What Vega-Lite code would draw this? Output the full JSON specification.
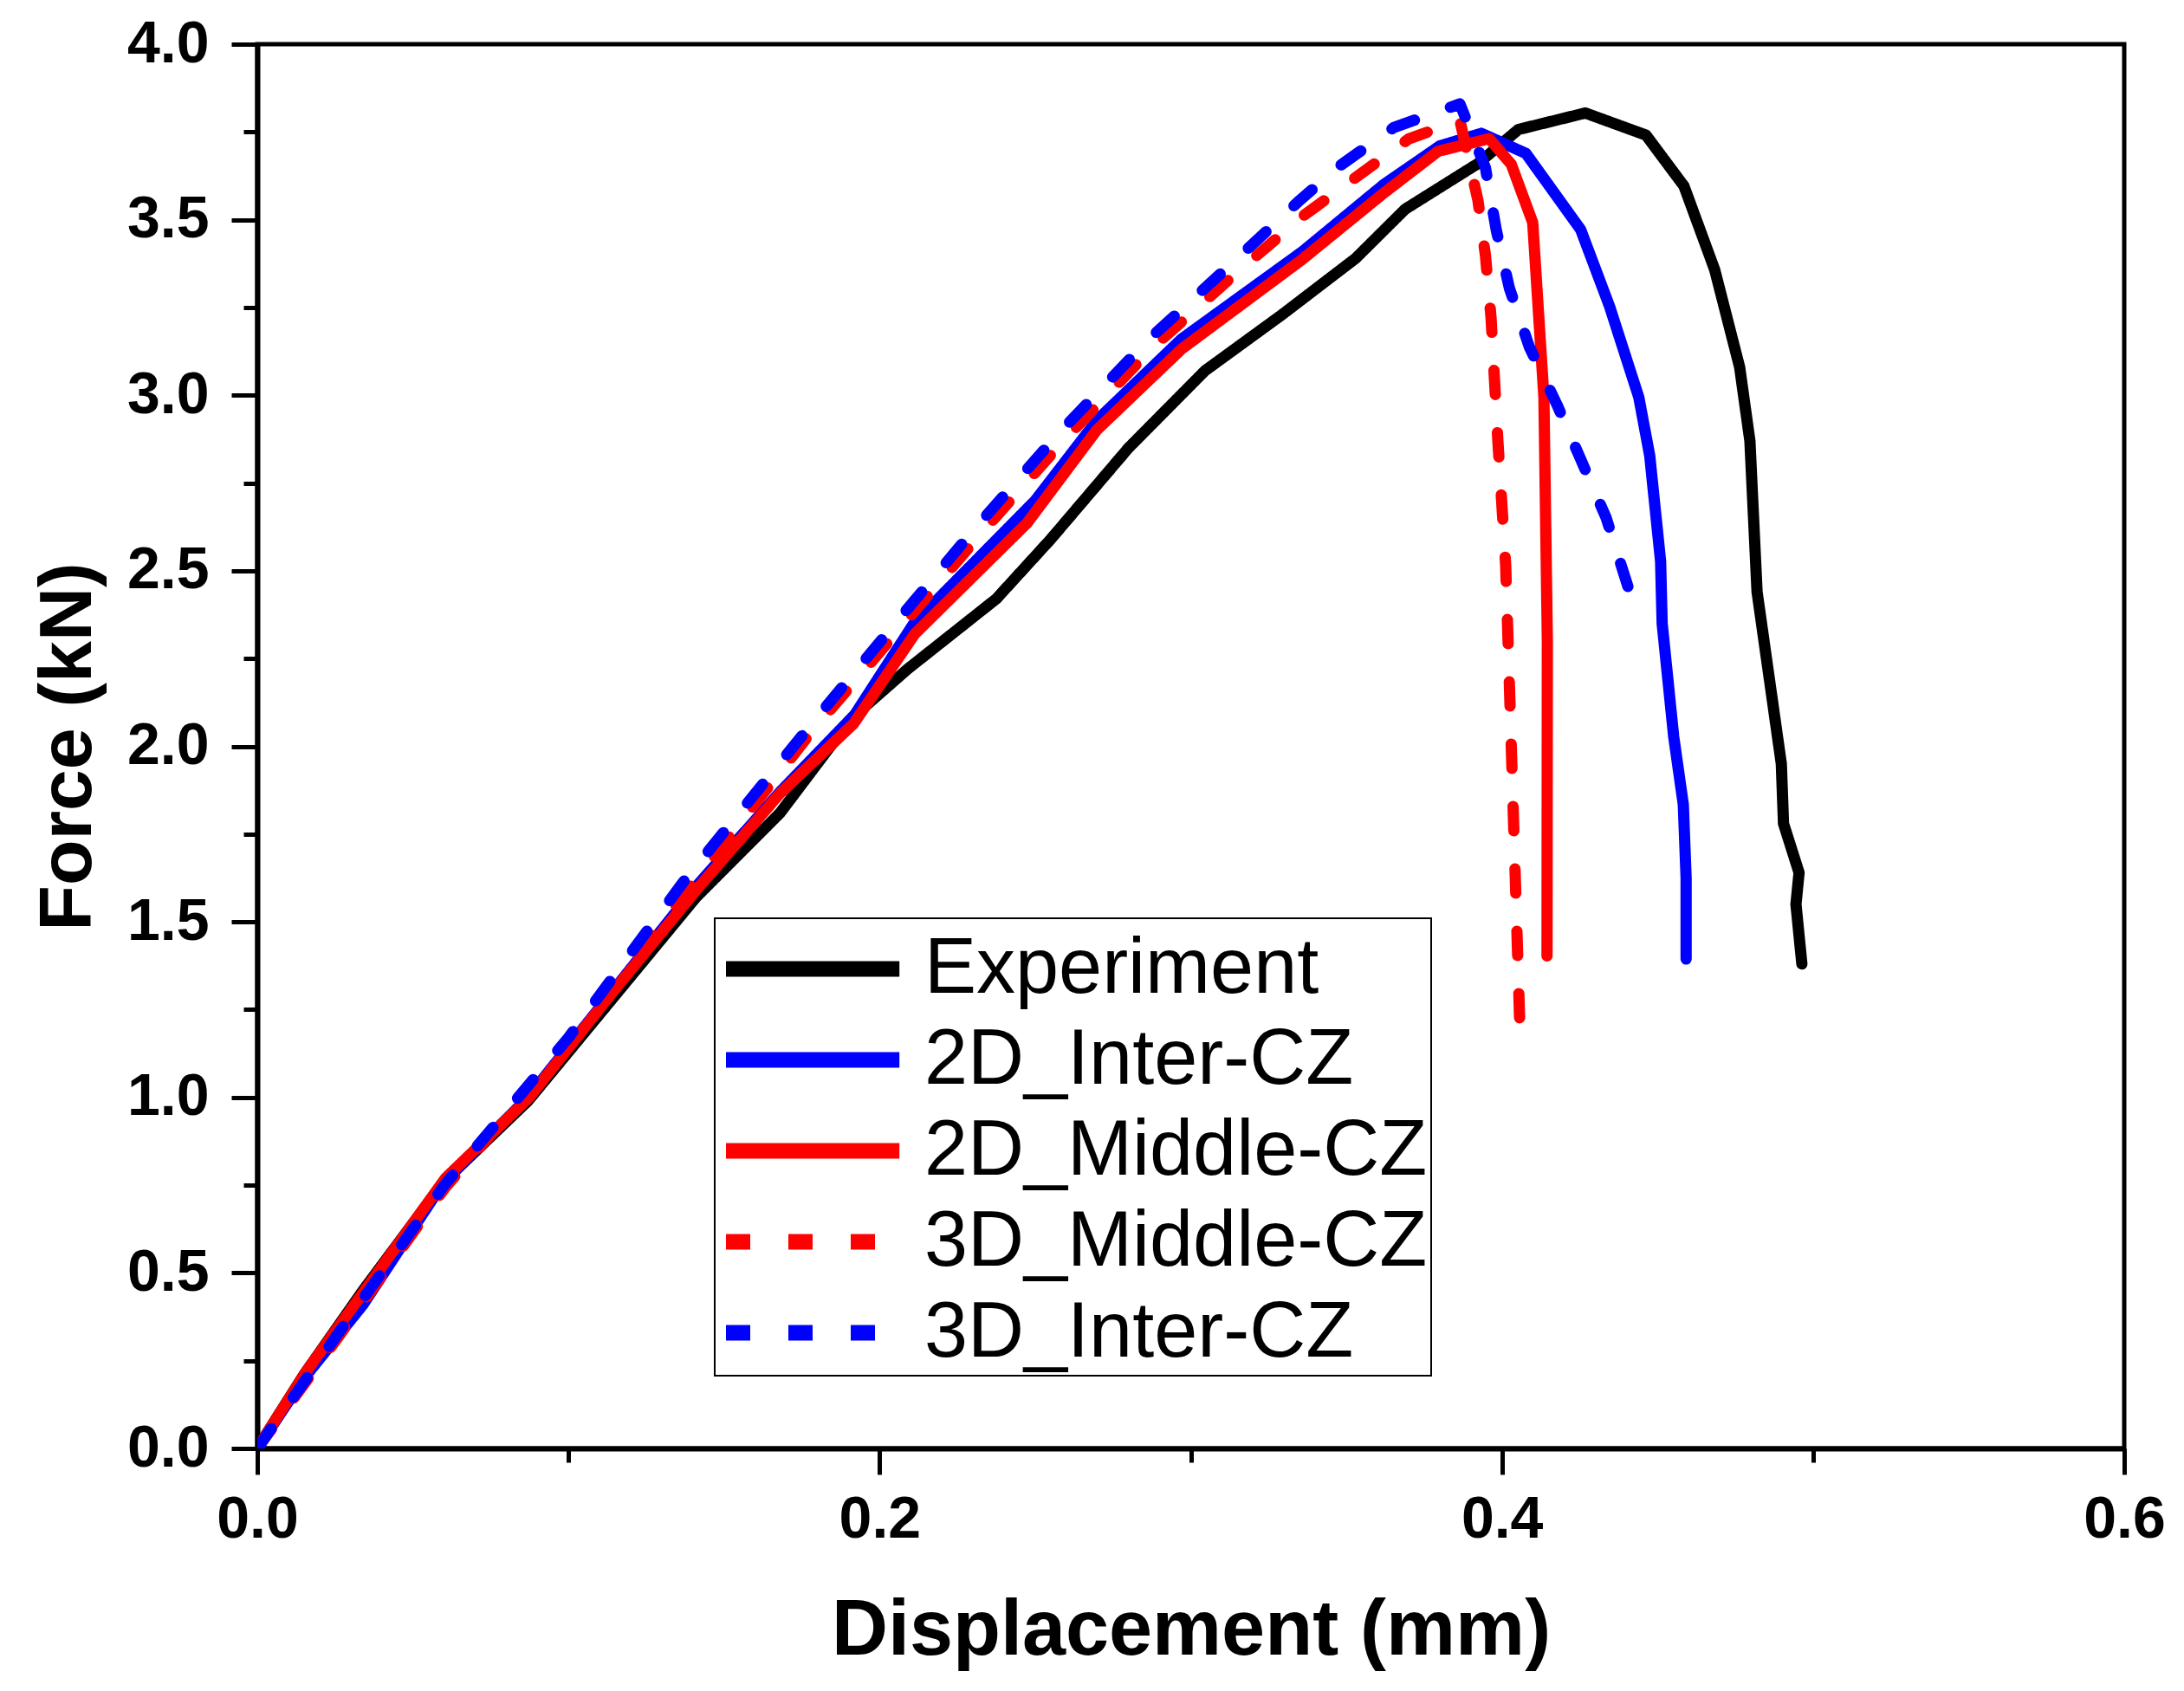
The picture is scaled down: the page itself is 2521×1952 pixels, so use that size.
{
  "$schema": "https://vega.github.io/schema/vega-lite/v6.json",
  "background": "white",
  "autosize": "none",
  "width": 2155,
  "height": 1621,
  "padding": {"left": 297, "top": 51, "right": 69, "bottom": 280},
  "datasets": {
    "curves": [
      {"series": "Experiment", "x": 0, "y": 0},
      {"series": "Experiment", "x": 0.015, "y": 0.21},
      {"series": "Experiment", "x": 0.034, "y": 0.45},
      {"series": "Experiment", "x": 0.06, "y": 0.76},
      {"series": "Experiment", "x": 0.087, "y": 0.99},
      {"series": "Experiment", "x": 0.114, "y": 1.28},
      {"series": "Experiment", "x": 0.141, "y": 1.57},
      {"series": "Experiment", "x": 0.168, "y": 1.81},
      {"series": "Experiment", "x": 0.191, "y": 2.08},
      {"series": "Experiment", "x": 0.209, "y": 2.22},
      {"series": "Experiment", "x": 0.2375, "y": 2.42},
      {"series": "Experiment", "x": 0.255, "y": 2.59},
      {"series": "Experiment", "x": 0.28, "y": 2.85},
      {"series": "Experiment", "x": 0.3046, "y": 3.07},
      {"series": "Experiment", "x": 0.3294, "y": 3.23},
      {"series": "Experiment", "x": 0.353, "y": 3.39},
      {"series": "Experiment", "x": 0.3689, "y": 3.53},
      {"series": "Experiment", "x": 0.3923, "y": 3.66},
      {"series": "Experiment", "x": 0.4053, "y": 3.757},
      {"series": "Experiment", "x": 0.4268, "y": 3.804},
      {"series": "Experiment", "x": 0.4463, "y": 3.741},
      {"series": "Experiment", "x": 0.4585, "y": 3.596},
      {"series": "Experiment", "x": 0.4684, "y": 3.357},
      {"series": "Experiment", "x": 0.4764, "y": 3.08},
      {"series": "Experiment", "x": 0.4797, "y": 2.87},
      {"series": "Experiment", "x": 0.482, "y": 2.44},
      {"series": "Experiment", "x": 0.4898, "y": 1.95},
      {"series": "Experiment", "x": 0.4905, "y": 1.78},
      {"series": "Experiment", "x": 0.4955, "y": 1.64},
      {"series": "Experiment", "x": 0.4945, "y": 1.55},
      {"series": "Experiment", "x": 0.4964, "y": 1.38},

      {"series": "2D_Inter-CZ", "x": 0, "y": 0},
      {"series": "2D_Inter-CZ", "x": 0.015, "y": 0.2},
      {"series": "2D_Inter-CZ", "x": 0.034, "y": 0.41},
      {"series": "2D_Inter-CZ", "x": 0.06, "y": 0.76},
      {"series": "2D_Inter-CZ", "x": 0.087, "y": 1.0},
      {"series": "2D_Inter-CZ", "x": 0.114, "y": 1.3},
      {"series": "2D_Inter-CZ", "x": 0.141, "y": 1.6},
      {"series": "2D_Inter-CZ", "x": 0.168, "y": 1.87},
      {"series": "2D_Inter-CZ", "x": 0.192, "y": 2.09},
      {"series": "2D_Inter-CZ", "x": 0.211, "y": 2.35},
      {"series": "2D_Inter-CZ", "x": 0.25, "y": 2.7},
      {"series": "2D_Inter-CZ", "x": 0.27, "y": 2.93},
      {"series": "2D_Inter-CZ", "x": 0.297, "y": 3.16},
      {"series": "2D_Inter-CZ", "x": 0.336, "y": 3.41},
      {"series": "2D_Inter-CZ", "x": 0.362, "y": 3.6},
      {"series": "2D_Inter-CZ", "x": 0.38, "y": 3.71},
      {"series": "2D_Inter-CZ", "x": 0.3934, "y": 3.746},
      {"series": "2D_Inter-CZ", "x": 0.4077, "y": 3.689},
      {"series": "2D_Inter-CZ", "x": 0.4253, "y": 3.472},
      {"series": "2D_Inter-CZ", "x": 0.4346, "y": 3.253},
      {"series": "2D_Inter-CZ", "x": 0.444, "y": 2.994},
      {"series": "2D_Inter-CZ", "x": 0.4475, "y": 2.828},
      {"series": "2D_Inter-CZ", "x": 0.451, "y": 2.527},
      {"series": "2D_Inter-CZ", "x": 0.4515, "y": 2.35},
      {"series": "2D_Inter-CZ", "x": 0.4552, "y": 2.028},
      {"series": "2D_Inter-CZ", "x": 0.4583, "y": 1.834},
      {"series": "2D_Inter-CZ", "x": 0.4592, "y": 1.624},
      {"series": "2D_Inter-CZ", "x": 0.4592, "y": 1.394},

      {"series": "2D_Middle-CZ", "x": 0, "y": 0},
      {"series": "2D_Middle-CZ", "x": 0.0158, "y": 0.22},
      {"series": "2D_Middle-CZ", "x": 0.0337, "y": 0.44},
      {"series": "2D_Middle-CZ", "x": 0.0605, "y": 0.77},
      {"series": "2D_Middle-CZ", "x": 0.0874, "y": 1.0},
      {"series": "2D_Middle-CZ", "x": 0.1142, "y": 1.3},
      {"series": "2D_Middle-CZ", "x": 0.141, "y": 1.59},
      {"series": "2D_Middle-CZ", "x": 0.168, "y": 1.866},
      {"series": "2D_Middle-CZ", "x": 0.1916, "y": 2.064},
      {"series": "2D_Middle-CZ", "x": 0.2113, "y": 2.32},
      {"series": "2D_Middle-CZ", "x": 0.2474, "y": 2.636},
      {"series": "2D_Middle-CZ", "x": 0.2698, "y": 2.901},
      {"series": "2D_Middle-CZ", "x": 0.2971, "y": 3.132},
      {"series": "2D_Middle-CZ", "x": 0.3357, "y": 3.386},
      {"series": "2D_Middle-CZ", "x": 0.3619, "y": 3.575},
      {"series": "2D_Middle-CZ", "x": 0.3795, "y": 3.695},
      {"series": "2D_Middle-CZ", "x": 0.3959, "y": 3.731},
      {"series": "2D_Middle-CZ", "x": 0.403, "y": 3.658},
      {"series": "2D_Middle-CZ", "x": 0.4099, "y": 3.492},
      {"series": "2D_Middle-CZ", "x": 0.4135, "y": 2.994},
      {"series": "2D_Middle-CZ", "x": 0.4146, "y": 2.3},
      {"series": "2D_Middle-CZ", "x": 0.4145, "y": 1.403},

      {"series": "3D_Middle-CZ", "x": 0, "y": 0},
      {"series": "3D_Middle-CZ", "x": 0.0262, "y": 0.32},
      {"series": "3D_Middle-CZ", "x": 0.0601, "y": 0.74},
      {"series": "3D_Middle-CZ", "x": 0.1, "y": 1.15},
      {"series": "3D_Middle-CZ", "x": 0.14, "y": 1.61},
      {"series": "3D_Middle-CZ", "x": 0.178, "y": 2.04},
      {"series": "3D_Middle-CZ", "x": 0.205, "y": 2.32},
      {"series": "3D_Middle-CZ", "x": 0.231, "y": 2.59},
      {"series": "3D_Middle-CZ", "x": 0.258, "y": 2.86},
      {"series": "3D_Middle-CZ", "x": 0.287, "y": 3.13},
      {"series": "3D_Middle-CZ", "x": 0.3155, "y": 3.355},
      {"series": "3D_Middle-CZ", "x": 0.336, "y": 3.51},
      {"series": "3D_Middle-CZ", "x": 0.37, "y": 3.73},
      {"series": "3D_Middle-CZ", "x": 0.3865, "y": 3.783},
      {"series": "3D_Middle-CZ", "x": 0.3923, "y": 3.555},
      {"series": "3D_Middle-CZ", "x": 0.3947, "y": 3.399},
      {"series": "3D_Middle-CZ", "x": 0.3965, "y": 3.222},
      {"series": "3D_Middle-CZ", "x": 0.3987, "y": 2.87},
      {"series": "3D_Middle-CZ", "x": 0.4012, "y": 2.517},
      {"series": "3D_Middle-CZ", "x": 0.4018, "y": 2.35},
      {"series": "3D_Middle-CZ", "x": 0.4057, "y": 1.22},

      {"series": "3D_Inter-CZ", "x": 0, "y": 0},
      {"series": "3D_Inter-CZ", "x": 0.0262, "y": 0.33},
      {"series": "3D_Inter-CZ", "x": 0.0601, "y": 0.75},
      {"series": "3D_Inter-CZ", "x": 0.1, "y": 1.17},
      {"series": "3D_Inter-CZ", "x": 0.1366, "y": 1.61},
      {"series": "3D_Inter-CZ", "x": 0.1778, "y": 2.06},
      {"series": "3D_Inter-CZ", "x": 0.204, "y": 2.339},
      {"series": "3D_Inter-CZ", "x": 0.23, "y": 2.614},
      {"series": "3D_Inter-CZ", "x": 0.2574, "y": 2.89},
      {"series": "3D_Inter-CZ", "x": 0.286, "y": 3.155},
      {"series": "3D_Inter-CZ", "x": 0.3145, "y": 3.386},
      {"series": "3D_Inter-CZ", "x": 0.335, "y": 3.555},
      {"series": "3D_Inter-CZ", "x": 0.3478, "y": 3.653},
      {"series": "3D_Inter-CZ", "x": 0.3653, "y": 3.763},
      {"series": "3D_Inter-CZ", "x": 0.3865, "y": 3.83},
      {"series": "3D_Inter-CZ", "x": 0.3947, "y": 3.648},
      {"series": "3D_Inter-CZ", "x": 0.3982, "y": 3.47},
      {"series": "3D_Inter-CZ", "x": 0.4024, "y": 3.305},
      {"series": "3D_Inter-CZ", "x": 0.4088, "y": 3.138},
      {"series": "3D_Inter-CZ", "x": 0.4177, "y": 2.973},
      {"series": "3D_Inter-CZ", "x": 0.4253, "y": 2.818},
      {"series": "3D_Inter-CZ", "x": 0.4335, "y": 2.651},
      {"series": "3D_Inter-CZ", "x": 0.4411, "y": 2.438}
    ]
  },
  "data": {"name": "curves"},
  "mark": {
    "type": "line",
    "strokeWidth": 13,
    "strokeCap": "round",
    "strokeJoin": "round",
    "clip": true
  },
  "encoding": {
    "x": {
      "field": "x",
      "type": "quantitative",
      "title": "Displacement (mm)",
      "scale": {"domain": [0, 0.6], "nice": false, "zero": false},
      "axis": {
        "values": [0, 0.1, 0.2, 0.3, 0.4, 0.5, 0.6],
        "labelExpr": "round(datum.value * 10) % 2 === 0 ? format(datum.value, '.1f') : ''",
        "tickSize": {"condition": {"test": "round(datum.value * 10) % 2 !== 0", "value": 16}, "value": 30},
        "labelPadding": 18,
        "titlePadding": 50,
        "grid": false
      }
    },
    "y": {
      "field": "y",
      "type": "quantitative",
      "title": "Force (kN)",
      "scale": {"domain": [0, 4], "nice": false, "zero": false},
      "axis": {
        "values": [0, 0.25, 0.5, 0.75, 1, 1.25, 1.5, 1.75, 2, 2.25, 2.5, 2.75, 3, 3.25, 3.5, 3.75, 4],
        "labelExpr": "datum.value % 0.5 === 0 ? format(datum.value, '.1f') : ''",
        "tickSize": {"condition": {"test": "datum.value % 0.5 !== 0", "value": 16}, "value": 30},
        "labelPadding": 26,
        "titlePadding": 24,
        "titleFontSize": 86,
        "grid": false
      }
    },
    "color": {
      "field": "series",
      "type": "nominal",
      "sort": ["Experiment", "2D_Inter-CZ", "2D_Middle-CZ", "3D_Middle-CZ", "3D_Inter-CZ"],
      "scale": {
        "domain": ["Experiment", "2D_Inter-CZ", "2D_Middle-CZ", "3D_Middle-CZ", "3D_Inter-CZ"],
        "range": ["#000000", "#0000ff", "#ff0000", "#ff0000", "#0000ff"]
      },
      "legend": {
        "title": null,
        "orient": "none",
        "legendX": 528,
        "legendY": 1009,
        "padding": 4,
        "strokeColor": "#000000",
        "symbolType": "M-1,0H3.4",
        "symbolSize": 8281,
        "symbolStrokeWidth": 18,
        "labelOffset": 129,
        "rowPadding": 5,
        "labelFont": "Liberation Sans",
        "labelFontSize": 90,
        "labelColor": "#000000",
        "labelLimit": 1000
      }
    },
    "strokeDash": {
      "field": "series",
      "type": "nominal",
      "sort": ["Experiment", "2D_Inter-CZ", "2D_Middle-CZ", "3D_Middle-CZ", "3D_Inter-CZ"],
      "scale": {
        "domain": ["Experiment", "2D_Inter-CZ", "2D_Middle-CZ", "3D_Middle-CZ", "3D_Inter-CZ"],
        "range": [[1, 0], [1, 0], [1, 0], [28, 44], [28, 44]]
      },
      "legend": {
        "title": null,
        "orient": "none",
        "legendX": 528,
        "legendY": 1009,
        "padding": 4,
        "strokeColor": "#000000",
        "symbolType": "M-1,0H3.4",
        "symbolSize": 8281,
        "symbolStrokeWidth": 18,
        "labelOffset": 129,
        "rowPadding": 5,
        "labelFont": "Liberation Sans",
        "labelFontSize": 90,
        "labelColor": "#000000",
        "labelLimit": 1000
      }
    },
    "order": {"value": null}
  },
  "config": {
    "view": {"stroke": "#000000", "strokeWidth": 5},
    "axis": {
      "domainColor": "#000000",
      "domainWidth": 6,
      "tickColor": "#000000",
      "tickWidth": 5,
      "labelFlush": false,
      "labelFont": "Liberation Sans",
      "labelFontSize": 68,
      "labelFontWeight": "bold",
      "labelColor": "#000000",
      "titleFont": "Liberation Sans",
      "titleFontSize": 90,
      "titleFontWeight": "bold",
      "titleColor": "#000000"
    },
    "legend": {
      "strokeWidth": 2
    }
  }
}
